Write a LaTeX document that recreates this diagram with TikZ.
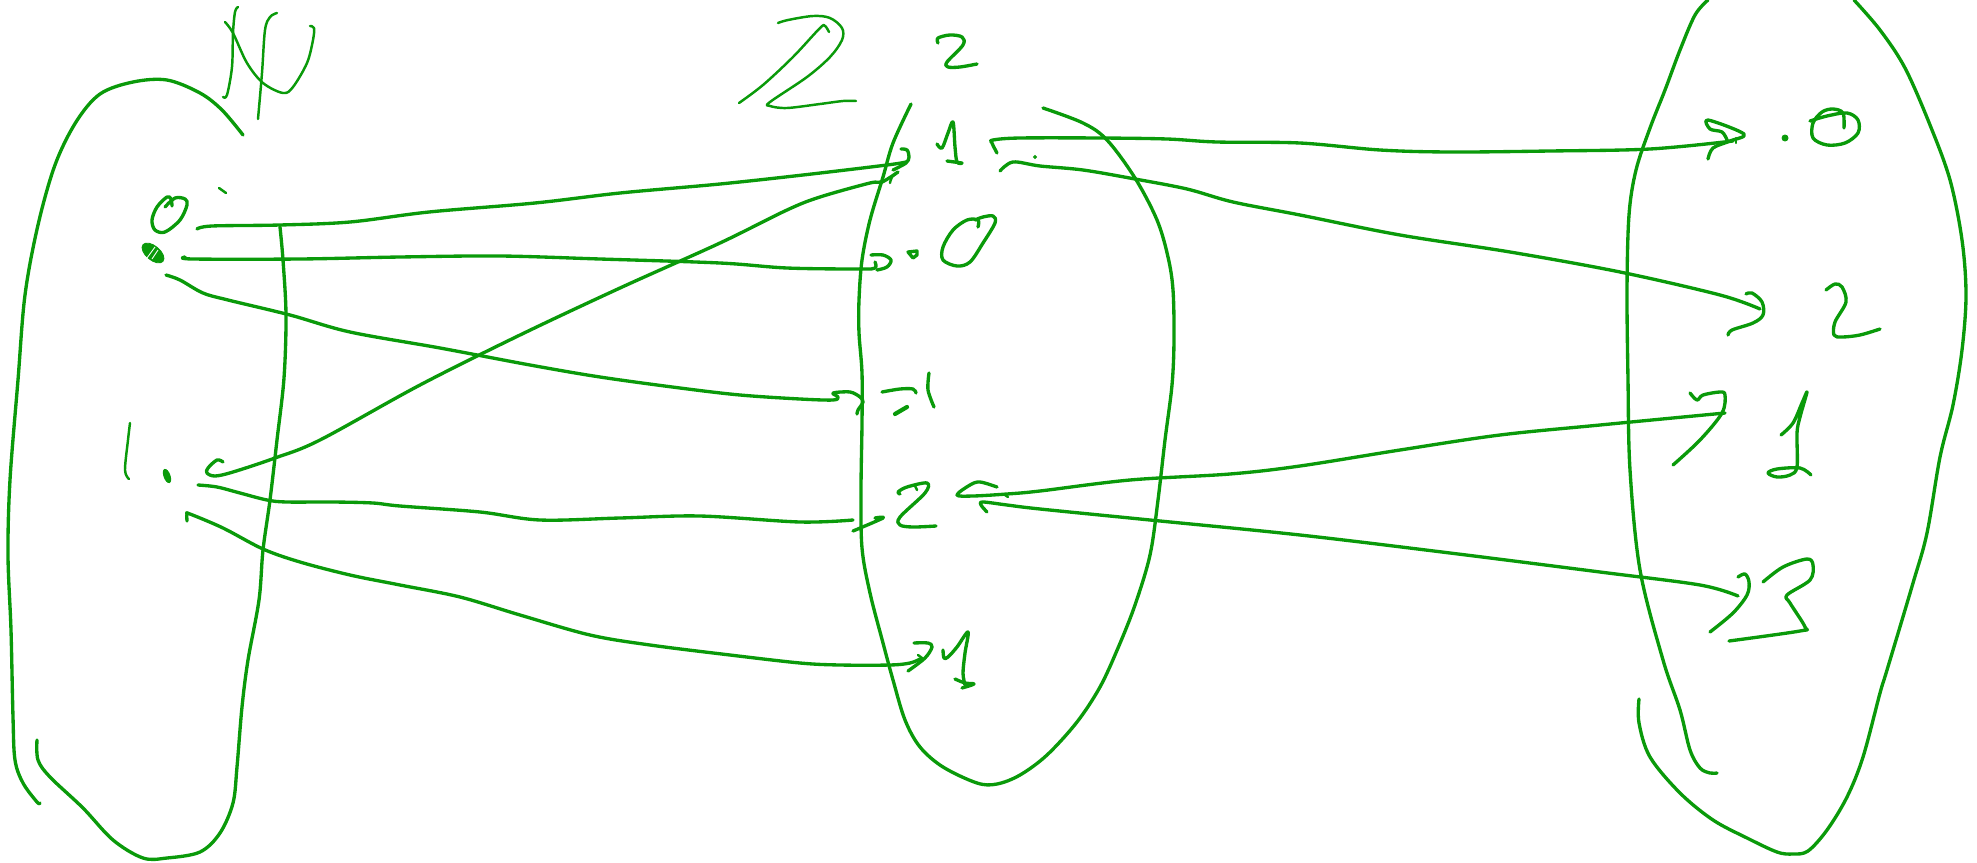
\documentclass[tikz,border=0pt]{standalone}
\usepackage{xcolor}
\definecolor{ink}{HTML}{0A9A0A}
\begin{document}
\begin{tikzpicture}[x=0.02cm,y=-0.02cm,
    pen/.style={ink,line width=1.9pt,line cap=round,line join=round},
    fine/.style={ink,line width=1.4pt,line cap=round,line join=round},
    blob/.style={fill=ink,draw=ink,line width=0.5pt}]
  \def\sketch#1{\draw[pen] plot[smooth,tension=0.55] coordinates {#1};}
  \def\thin#1{\draw[fine] plot[smooth,tension=0.55] coordinates {#1};}
  \useasboundingbox (0,0) rectangle (1977,862);
  % left set
  \sketch{(243,135) (222,110) (200,93) (167,80) (133,82) (100,94) (76,122) (55,165) (38,225) (25,295) (18,380) (10,480) (8,555) (11,630) (13,717) (15,760) (23,783) (37,802) (40,803)}
  \sketch{(37,740) (38,760) (50,777) (83,808) (113,840) (143,858) (167,858) (200,852) (220,833) (233,803) (237,767) (242,707) (248,660) (259,600) (263,550) (270,500) (277,440) (284,378) (286,315) (283,260) (280,227)}
  % label of the left set
  \thin{(223,97) (227,95) (232,67) (233,33) (235,12) (238,7)}
  \thin{(225,22) (233,33) (247,63) (263,83) (283,93) (293,87) (307,63) (313,40) (314,28) (310,26)}
  \thin{(258,119) (262,73) (265,30) (270,17) (277,13)}
  % left elements: 0, 0, 1
  \sketch{(172,206) (171,199) (167,197) (157,207) (152,220) (155,230) (165,232) (180,220) (187,205) (185,199) (175,198) (165,207)}
  \draw[blob,rotate around={-40:(153,253)}] (153,253) ellipse (13 and 7);
  \draw[white,line width=0.5pt] (147,258) -- (155,247) (152,259) -- (158,250);
  \thin{(219,188) (226,193)}
  \thin{(130,423) (128,440) (125,470) (129,479)}
  \draw[blob,rotate around={-70:(167,476)}] (167,476) ellipse (7 and 3);
  % left to middle
  \sketch{(197,229) (212,226) (280,225) (350,222) (429,212) (535,203) (620,193) (720,184) (803,175) (887,165) (906,162)}
  \sketch{(901,149) (907,150) (909,157) (906,163) (893,170)}
  \thin{(890,183) (892,177) (898,172)}
  \sketch{(185,257) (193,259) (300,259) (400,257) (500,256) (600,259) (720,263) (787,268) (860,269) (875,268) (875,262)}
  \sketch{(871,255) (883,255) (891,260) (887,267) (877,270)}
  \sketch{(166,275) (180,280) (203,293) (228,300) (290,315) (350,332) (440,348) (530,365) (600,377) (680,388) (740,395) (800,399) (833,400) (838,397) (833,393) (850,392) (860,397) (863,402) (858,410) (857,414)}
  \sketch{(223,462) (217,460) (208,468) (207,473) (215,476) (233,472) (275,458) (320,440) (420,385) (520,335) (620,288) (720,243) (787,210) (820,197) (870,183) (882,182) (898,172)}
  \sketch{(198,485) (217,487) (240,493) (267,500) (287,502) (333,502) (373,503) (400,506) (480,512) (540,520) (620,518) (700,516) (800,522) (853,520)}
  \sketch{(853,531) (883,518) (875,518)}
  \sketch{(187,521) (187,514) (190,514) (223,528) (263,549) (300,562) (350,575) (400,585) (460,597) (520,615) (590,635) (650,645) (730,655) (800,663) (840,665) (890,665) (910,663) (920,659)}
  \sketch{(914,643) (928,643) (932,647) (925,658) (908,671)}
  \thin{(918,655) (922,658)}
  % middle set
  \sketch{(911,104) (893,143) (883,177) (870,220) (862,260) (859,300) (859,333) (862,373) (862,423) (861,490) (862,548) (870,593) (883,643) (893,680) (905,720) (920,747) (943,767) (977,783) (997,784) (1020,775) (1047,755) (1077,722) (1100,687) (1118,648) (1135,605) (1150,555) (1158,500) (1165,440) (1172,385) (1174,340) (1173,290) (1168,257) (1157,220) (1135,178) (1107,140) (1083,123) (1043,108)}
  % label of the middle set
  \thin{(778,23) (788,20) (813,16) (830,18) (842,28) (842,40) (830,57) (807,77) (770,102) (770,106) (787,108) (820,104) (843,101) (856,101)}
  \thin{(739,103) (763,85) (793,57) (820,28) (825,26) (829,32)}
  % middle elements: 2, 1, 0, -1, -2, -3
  \sketch{(938,43) (938,38) (950,35) (962,37) (963,45) (947,62) (948,67) (960,67) (977,64)}
  \sketch{(937,144) (942,148) (948,133) (953,122) (955,147) (957,162) (962,163) (947,161)}
  \sketch{(978,227) (978,220) (967,220) (953,230) (943,247) (943,260) (957,266) (970,262) (983,243) (995,223) (993,216) (983,217) (975,220)}
  \draw[pen] (908,252) -- (917,251) -- (917,255) -- (913,258) -- cycle;
  \sketch{(882,392) (900,389) (913,389) (916,393)}
  \draw[pen,line width=2.4pt] (895,414) -- (907,407);
  \sketch{(929,373) (928,390) (934,407)}
  \sketch{(900,494) (898,492) (907,487) (927,483) (925,493) (900,517) (900,525) (913,527) (936,526)}
  \thin{(915,486) (917,490)}
  \sketch{(943,650) (944,658) (948,657) (957,647) (968,632) (965,653) (963,673) (965,685)}
  \sketch{(955,679) (965,683) (974,684) (962,688)}
  % middle to right
  \sketch{(997,153) (992,143) (993,140) (1020,138) (1100,138) (1167,139) (1217,142) (1300,143) (1380,150) (1450,152) (1550,151) (1650,149) (1733,141)}
  \sketch{(1708,159) (1713,148) (1730,141) (1744,134) (1708,120) (1710,129) (1722,132) (1727,140)}
  \thin{(1736,138) (1736,143)}
  \sketch{(1000,171) (1013,162) (1040,166) (1083,170) (1135,179) (1187,189) (1233,202) (1300,215) (1400,235) (1510,252) (1620,272) (1720,295) (1760,309)}
  \sketch{(1746,294) (1752,293) (1762,302) (1763,315) (1753,323) (1732,330) (1728,335)}
  \draw[blob] (1035,157) circle (1.5);
  \sketch{(997,487) (980,482) (970,485) (957,495) (973,496) (1007,494) (1040,491) (1130,480) (1230,474) (1300,466) (1400,450) (1500,435) (1600,425) (1725,413)}
  \thin{(1005,495) (1008,497)}
  \sketch{(1690,393) (1697,400) (1703,395) (1720,392) (1725,395) (1722,413) (1700,440) (1673,465)}
  \sketch{(987,512) (981,505) (983,502) (1007,505) (1040,509) (1150,520) (1300,535) (1450,553) (1600,572) (1700,585) (1738,596)}
  \sketch{(1738,577) (1745,574) (1749,582) (1747,595) (1733,613) (1710,632)}
  % right set
  \sketch{(1708,0) (1695,15) (1680,50) (1665,90) (1650,128) (1636,170) (1629,215) (1627,290) (1628,380) (1630,470) (1640,570) (1663,660) (1680,710) (1690,750) (1700,768) (1710,773) (1717,773)}
  \sketch{(1639,699) (1639,723) (1650,757) (1680,793) (1713,820) (1747,838) (1777,852) (1793,854) (1808,851) (1827,830) (1847,797) (1863,757) (1880,693) (1887,670) (1913,583) (1927,533) (1940,457) (1953,405) (1962,350) (1966,295) (1962,240) (1950,180) (1930,125) (1905,68) (1880,30) (1854,0)}
  % right elements: 0, 2, 1, 3
  \sketch{(1810,121) (1827,116) (1847,113) (1858,120) (1858,133) (1845,143) (1827,145) (1813,138) (1813,123) (1822,112) (1833,109) (1843,113) (1844,128)}
  \draw[blob] (1785,138) circle (3);
  \sketch{(1826,290) (1835,284) (1842,287) (1846,302) (1835,322) (1834,335) (1842,337) (1860,335) (1880,329)}
  \sketch{(1781,435) (1793,423) (1802,403) (1807,392) (1800,417) (1797,433) (1797,467) (1790,475) (1777,477) (1768,473) (1777,469) (1800,468) (1811,475)}
  \sketch{(1763,582) (1783,567) (1807,559) (1813,565) (1810,580) (1787,595) (1790,603) (1805,627) (1800,631) (1729,641)}
\end{tikzpicture}
\end{document}
